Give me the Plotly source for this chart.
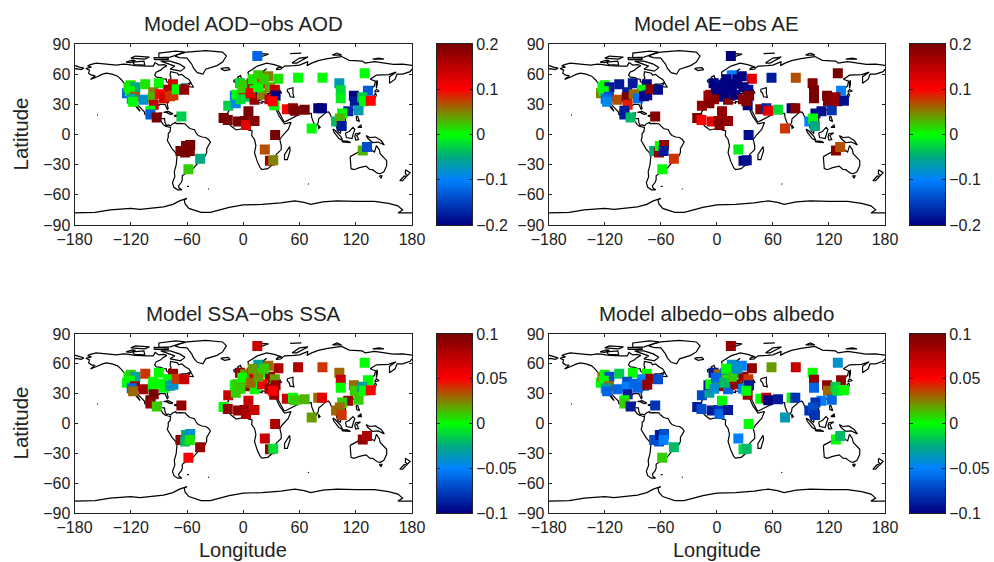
import plotly.graph_objects as go

W, H = 994, 562

# ---------- data ----------
site_lon = [-124,-122.5,-120,-115,-121,-115.5,-119,-117.5,-106.5,-104.5,-90,-96,-96.5,-95.5,-99,-99,-92.3,-75,-80,-89,-84.5,-78,-74.5,-71,-63,-66,
            -67,-62,-61,-56.5,-57,-46,-58.5,
            -21,-16.5,-5.5,1.5,5.5,3,12,34,23,28.5,32,
            46.5,53,55,65.5,80,84,73,
            102.5,104,104,129.5,133,118,119,112,123,127,129,136,105.5,99,103,105,
            37.5,58.5,84.5,127.5,132,15,
            -16,-8,-9,-7,-3.5,3,5,2,9,0,6,12,14,12,16,26.7,19.5,28.5,33.7,20,28,34.5,33,31.5,
            10,-1,8,16,22,-3]
site_lat = [41,47,49,47,43,37.5,35.5,32.5,34.5,50,51,42,37,29.5,23.5,20,17,50,44.5,40,36,38,39,45,44.5,18,
            -16.5,-18,-11.5,-10.5,-16.5,-24,-34.5,
            16.5,14.5,13,13.5,23,9.5,13.5,-0.5,-15,-26,-25.5,
            25,26,23.5,24.5,26,26,6,
            51,44,36,61,43.5,38.5,33,23,24,37,33,33.5,21,13,16,8.5,
            55.5,56.5,56.5,-16,-12.5,78,
            28.5,31,38.5,39.5,51,37.5,48,49.5,51,43,44,44,38.5,34.5,59,58,50.5,47,44.5,39.5,35,38.5,29,33,
            55,46,41,47,55,35]
aod_diff = [-.12,.01,.01,-.05,.0,.07,-.06,.0,-.08,.01,.0,.05,.03,.15,.0,-.13,.2,.13,.17,.1,.13,.08,.08,.0,.18,-.03,
            .2,.2,.2,.2,.2,-.05,.02,
            .2,.2,.2,.2,.2,.12,.19,.2,.07,.17,.05,
            .1,.18,.2,.2,-.2,-.2,.0,
            -.07,-.02,-.01,.0,-.13,-.2,-.18,-.17,-.07,-.03,.0,.1,.0,-.04,.03,-.18,
            .01,.0,.0,.03,-.14,-.12,
            -.03,-.09,-.1,.0,-.02,-.03,.15,.02,.18,.12,.15,.0,-.2,.18,.02,.05,.09,.03,.15,.05,.15,-.2,.0,.1,
            .01,.02,.12,.0,.02,-.02]
ae_diff = [.05,.0,.0,-.18,.0,-.14,-.12,-.09,.07,-.18,-.18,-.18,.2,.09,-.18,-.18,-.04,-.2,.0,.06,-.11,-.2,-.19,.19,-.19,.19,
           -.05,.18,.0,.18,-.18,.08,.0,
           .2,.1,.12,.18,.18,.19,.18,-.19,-.01,-.2,-.19,
           .19,-.17,.12,-.02,-.2,.19,.08,
           .19,.2,.2,.2,-.1,.2,.19,-.19,-.16,.18,.18,-.19,-.19,-.1,.0,-.05,
           .12,-.18,.07,.19,.07,-.2,
           .18,.19,.18,.17,-.2,-.2,-.2,-.19,-.2,-.2,-.2,-.2,-.19,.19,-.1,-.2,-.2,-.2,-.19,-.2,.19,.19,-.2,.19,
           -.2,-.2,-.2,-.2,-.2,.19]
ssa_diff = [.0,.0,.01,-.03,.0,.09,-.06,.03,.085,.04,.0,.0,.0,.1,.1,.09,.01,.09,.0,.0,.0,-.03,-.04,.04,.07,.09,
            .09,-.02,-.025,-.04,.005,.09,.05,
            .0,.09,.09,.09,.07,.08,.07,.08,.07,.09,-.01,
            .07,.0,.01,.015,.03,.06,.02,
            .03,.07,.0,.0,.0,.03,.01,.09,.01,-.03,.0,.05,.01,.03,.03,.04,
            .08,.08,.04,.09,.08,.07,
            .07,.01,.0,.01,.09,.09,.01,.02,.05,.02,.02,.08,.0,.0,-.03,.03,.0,.09,.02,.05,.09,.09,.09,.05,
            .02,.0,.03,.02,.01,.01]
albedo_diff = [.0,.03,.0,-.07,.0,.03,-.03,-.06,-.06,-.015,.0,-.07,-.05,-.09,.0,.01,-.09,.0,-.05,-.06,-.06,-.06,.09,.09,-.07,-.08,
               -.07,-.07,-.09,-.07,-.05,-.02,.01,
               -.09,-.07,-.09,-.08,.0,-.06,-.09,.0,-.05,-.01,-.02,
               .0,.07,-.1,-.09,.0,-.08,-.035,
               .0,.09,-.06,-.04,.09,.09,.03,-.05,-.06,-.015,-.01,.0,-.08,-.08,-.07,-.08,
               .09,.02,.07,.0,-.02,.09,
               -.07,-.03,-.09,.0,-.09,.085,.0,.03,-.06,-.03,.02,.0,.06,-.06,-.04,-.05,-.025,.09,.04,.09,-.05,-.09,.09,.0,
               .0,-.06,-.02,.01,-.04,-.04]

panel_titles = ["Model AOD−obs AOD", "Model AE−obs AE", "Model SSA−obs SSA", "Model albedo−obs albedo"]
panel_values = [aod_diff, ae_diff, ssa_diff, albedo_diff]
panel_limits = [0.2, 0.2, 0.1, 0.1]
bar_ticks = [[-0.2,-0.1,0,0.1,0.2],[-0.2,-0.1,0,0.1,0.2],[-0.1,-0.05,0,0.05,0.1],[-0.1,-0.05,0,0.05,0.1]]
bar_labels = [["−0.2","−0.1","0","0.1","0.2"],["−0.2","−0.1","0","0.1","0.2"],
              ["−0.1","−0.05","0","0.05","0.1"],["−0.1","−0.05","0","0.05","0.1"]]
lon_ticks = [-180,-120,-60,0,60,120,180]
lat_ticks = [-90,-60,-30,0,30,60,90]

# coastlines (lon, lat)
north_south_america = [(-168,65.6),(-164,66.5),(-162,67),(-166,68.3),(-163,69.5),(-157,71),(-150,70.4),(-141,69.7),(-135,69),(-128,70),(-124,69.8),(-115,68.5),(-108,68),(-102,68),(-96,68),(-94,71.5),(-90,69),(-85,69.5),(-81.5,68.5),(-86,66),(-88,64),(-93,62),(-94.5,59),(-92.5,57),(-88,56.5),(-85,55.3),(-82,55),(-82,52.8),(-79.5,51.3),(-79,54),(-77,56),(-78,58.7),(-77.5,62.4),(-73,62),(-70,61),(-69,59),(-65.5,59.8),(-62,57),(-58,54.8),(-56,52),(-60,50),(-66,50),(-70,47),(-65,49),(-64.5,47),(-61,46),(-66,44),(-67,45),(-70,43.5),(-70.5,41.7),(-74,40.5),(-75.5,37.5),(-76,35),(-78,34),(-81,32),(-81,29.5),(-80,26),(-81,25),(-82.7,28),(-83.5,30),(-85.5,30),(-89,30),(-90,29),(-94,29.5),(-97,28),(-97.5,24),(-96,19),(-94.5,18),(-91.5,18.5),(-90.5,21),(-87,21.5),(-88,18),(-88.5,16),(-84,15.8),(-83.5,12),(-82,9),(-79.5,9.5),(-77.5,8.6),(-75.5,10.5),(-72,12),(-71.5,10.8),(-68,11),(-64,10.5),(-62,10.7),(-60,8.5),(-57,6),(-52,4.8),(-50,1),(-48,-1),(-44,-2.5),(-40,-3),(-37,-5),(-35,-7.5),(-37,-11),(-39,-14),(-39,-18),(-41,-22),(-45,-23.7),(-48.5,-26),(-49,-29),(-52.5,-33),(-54.5,-35),(-58,-34.5),(-57,-37),(-62,-39),(-65,-41),(-65,-45),(-66,-47.5),(-69,-51),(-68.5,-53),(-65.5,-55),(-70,-55),(-74,-52.5),(-75.5,-48),(-73,-42),(-73.5,-37),(-71.5,-30),(-70.5,-20),(-76,-14),(-81,-6),(-80,-2.5),(-80,1),(-78,3),(-77.5,7),(-80,7.5),(-83,8.3),(-85.5,10),(-87.5,13),(-91,14),(-94,16),(-97,15.8),(-101,17.5),(-105,20),(-105.5,22.5),(-109,26),(-112,29),(-114.7,31.5),(-113,27.5),(-110,23),(-112,25),(-115,28.5),(-117,32.5),(-120.5,34.5),(-122.5,37.5),(-124,40),(-124,43),(-124,47),(-123,49),(-127,51),(-130,54.5),(-134,58),(-140,60),(-146,61),(-150,60),(-152,59),(-157,57),(-163,54.8),(-158,58.5),(-162,59),(-165,61),(-164,64),(-168,65.6)]
greenland = [(-73,78),(-68,80),(-60,82),(-40,83.5),(-22,82),(-18,78),(-22,72),(-28,68.5),(-40,65),(-43,60),(-49,61.5),(-53,66),(-55,70),(-60,76),(-68,76.5),(-73,78)]
baffin = [(-62,66.5),(-67,63),(-72,64),(-78,65),(-73,68),(-80,70),(-88,73),(-78,73),(-68,70),(-62,66.5)]
victoria = [(-105,69),(-116,69.5),(-118,72),(-106,73),(-105,69)]
banks = [(-125,72),(-118,74),(-115,73.5),(-120,71.5),(-125,72)]
ellesmere = [(-90,76.5),(-78,77),(-62,82),(-72,83),(-90,81),(-90,76.5)]
devon = [(-95,74.5),(-80,74.5),(-80,76),(-95,76.5),(-95,74.5)]
melville = [(-120,76),(-105,75),(-100,77),(-115,78),(-120,76)]
newfoundland = [(-59,47.7),(-53,47),(-56,51.5),(-59,47.7)]
cuba = [(-85,22),(-80,23),(-75,20.5),(-78,20),(-82,22),(-85,22)]
hispaniola = [(-74,18.5),(-70,19.8),(-68.5,18.5),(-72,18),(-74,18.5)]
africa = [(-6,35.8),(-2,35.2),(3,36.9),(10,37.3),(11,34),(10,33.8),(15,32.3),(20,31),(20,33),(25,31.7),(32,31.2),(32.5,30),(35,24),(37,21),(38.5,18),(43,12),(44,10.5),(51,12),(48,5),(42,-1),(39,-5),(40.5,-11),(40.5,-15),(35,-20),(35.5,-24),(32.5,-26),(30,-31),(26,-34),(20,-34.8),(18,-33),(15,-27),(12,-18),(13.5,-11),(12,-5),(9,-1),(9.5,3.5),(5.5,4.5),(2,6.3),(-4,5.2),(-7.5,4.5),(-13,8.5),(-16.8,12.5),(-17.5,14.7),(-16,19),(-17,21),(-13,27.5),(-10,30),(-6,35.8)]
eurasia = [(-9,43),(-9.5,38.7),(-7,37),(-5.5,36),(-2,36.8),(0,39),(3,42),(4,43.4),(7.5,43.8),(10,44),(12.5,41.5),(16,38),(17,40.3),(18.5,40),(13,45),(14.5,45),(19,42),(20,39.5),(22.5,36.5),(24,38),(23,40.5),(26.5,40.5),(29,41),(35,42),(41,41),(39,44),(37,45.5),(33.5,45),(33,46),(30.5,46),(28,42),(26.5,40),(27,37),(30,36.3),(36,36.8),(35.5,33),(34.5,31.5),(32.5,30),(34.8,29.5),(35,28),(39,21),(42.5,16),(43.5,12.7),(45,12.8),(52,16),(58,19),(59.8,22.5),(56.5,24.5),(56,26.5),(52,24),(51,26),(48.5,29.5),(50,30),(56,27),(61,25.3),(67,25),(68,23.5),(70,21),(72.5,21),(73,17),(75,12),(77.5,8),(80,12),(80.5,15.5),(86,20),(88,22),(91,22.5),(92.5,20.5),(94.5,16),(97.5,16.5),(98.5,10),(101,3),(103.5,1.3),(104,3),(102,6.5),(100,9),(100.5,13.5),(103,11),(105,9),(109,11.5),(109,15),(105.7,19),(108,21.5),(110.5,21),(114,22.3),(118,24.5),(121.5,29),(122,31),(120,34.5),(122,37),(118,38.5),(121,40),(125,39.7),(126.5,35),(129,35.2),(129,37.5),(127.5,39.8),(130,42.5),(135,44),(140,48.5),(141,53),(137,54),(135.5,55),(142,59),(155,59.5),(163,62),(156,57.5),(156,51),(162,55),(164,60),(170,60),(178,62.5),(180,65),(None,None),(180,68.8),(170,70),(160,69.8),(150,71.5),(140,72.5),(130,71),(127,73),(113,73.8),(105,77.5),(90,75.5),(80,73.5),(73,71),(68,68.5),(69,72.5),(60,69),(54,68.5),(44,68),(40,65),(35,64.5),(37,66.5),(41,67),(33,69.5),(25,71),(15,68),(5,62),(6,58),(10.5,59),(13,55.5),(17,57),(18,60),(22,63.5),(25,65.5),(21,63),(23,60),(30,60),(24,58.5),(21,55),(14,54),(9,54),(8,57),(10.7,56),(9,54),(3.5,51.2),(-1.5,49.5),(-4.5,48.5),(-1,46),(-2,43.5),(-9,43)]
chukotka = [(-180,68.8),(-175,67),(-170,66),(-173,64.5),(-178,65.5),(-180,65)]
britain = [(-5.5,50),(1,51),(1.5,52.8),(-2,56),(-3,58.5),(-6,57),(-3.5,54),(-5,52),(-5.5,50)]
ireland = [(-10,52),(-6,52),(-6,55),(-10,54),(-10,52)]
iceland = [(-24,65.5),(-20,63.5),(-14,64.5),(-16,66.5),(-22,66),(-24,65.5)]
svalbard = [(11,79),(20,80.5),(27,80),(17,76.8),(11,79)]
novaya_zemlya = [(52,71),(57,71),(69,77),(60,76),(52,71)]
franz_josef = [(50,80.5),(62,81),(55,80),(50,80.5)]
caspian = [(47,45),(53,46.5),(53,41),(54,37),(50,37.5),(49,41),(47,43),(47,45)]
severnaya = [(95,79),(105,79),(100,81),(95,79)]
new_siberian = [(138,75),(145,76),(150,75),(138,75)]
sakhalin = [(142,46),(143,50),(143,54),(142,52),(142,46)]
honshu = [(131,34),(136,34),(140,35),(142,39),(141,41),(139,38),(136,36),(131,34)]
hokkaido = [(140,42),(142,45),(145,43),(141,42),(140,42)]
kyushu = [(130,33),(132,33),(131,31),(130,33)]
taiwan = [(120.5,23),(122,25),(121,22),(120.5,23)]
hainan = [(109,19),(111,20),(110,18),(109,19)]
luzon = [(120.5,18),(122,18),(124,13),(121,14),(120.5,18)]
mindanao = [(122,7),(126,7),(125.5,9.5),(123,8),(122,7)]
borneo = [(109,1.5),(113,3),(117,7),(119,5),(117.5,1),(116,-4),(110,-3),(109,1.5)]
sumatra = [(95.5,5.5),(98,4),(104,-2),(106,-6),(102,-4),(97,2),(95.5,5.5)]
java = [(105,-6.5),(111,-6.5),(114.5,-8),(106,-7.5),(105,-6.5)]
sulawesi = [(120,1),(125,1.5),(121,-1),(123,-5),(120,-5.5),(119,-2),(120,1)]
new_guinea = [(131,-1),(135,-3),(141,-2.5),(147,-6),(150.5,-10.5),(144,-7.5),(138,-8),(133,-4),(131,-1)]
australia = [(114,-22),(122,-18),(126,-14),(130,-12),(136,-12),(136,-15),(140,-17.5),(142,-11),(145,-15),(146,-19),(153,-26),(153,-31),(150,-37),(146,-39),(143,-38.5),(138,-35),(135,-34.8),(131,-31.5),(124,-33),(118,-35),(115,-34),(114,-27),(114,-22)]
tasmania = [(145,-41),(148,-41),(147,-43.5),(145,-41)]
nz_north = [(173,-35),(178,-38),(175,-41),(173,-39),(173,-35)]
nz_south = [(172,-41),(174,-42),(170,-46),(167,-46),(172,-41)]
madagascar = [(49.5,-12),(50,-16),(47,-25),(44,-25),(44,-20),(47,-15),(49.5,-12)]
sri_lanka = [(80,9.5),(82,7),(80.5,6),(80,9.5)]
falkland = [(-60,-51.5),(-58,-51.5),(-59,-52),(-60,-51.5)]
hawaii = [(-156,19.5),(-155,19.5),(-155.5,19),(-156,19.5)]
south_georgia = [(-37.5,-54),(-36.5,-54.2)]
kerguelen = [(69,-49),(70,-49.5)]
antarctica = [(-180,-78),(-158,-77.5),(-142,-75),(-120,-73.5),(-110,-74.5),(-100,-73.5),(-85,-72),(-75,-69.5),(-68,-66),(-60,-63.5),(-63,-65),(-62,-69),(-58,-73.5),(-45,-77.5),(-35,-77.5),(-25,-75),(-15,-72.5),(0,-70),(20,-69.5),(40,-68),(55,-66),(65,-67.5),(72,-69.5),(85,-67),(100,-66),(120,-66.5),(140,-66.5),(155,-68.5),(165,-71),(170,-75),(165,-78),(180,-78)]
landmasses = [north_south_america,greenland,baffin,victoria,banks,ellesmere,devon,melville,newfoundland,cuba,hispaniola,africa,eurasia,chukotka,britain,ireland,iceland,svalbard,novaya_zemlya,franz_josef,caspian,severnaya,new_siberian,sakhalin,honshu,hokkaido,kyushu,taiwan,hainan,luzon,mindanao,borneo,sumatra,java,sulawesi,new_guinea,australia,tasmania,nz_north,nz_south,madagascar,sri_lanka,falkland,hawaii,south_georgia,kerguelen,antarctica]
coast_lon, coast_lat = [], []
for land in landmasses:
    coast_lon += [p[0] for p in land] + [None]
    coast_lat += [p[1] for p in land] + [None]

colorscale = [[0,"rgb(0,0,128)"],[0.25,"rgb(0,128,255)"],[0.375,"rgb(0,170,128)"],
              [0.5,"rgb(0,255,0)"],[0.625,"rgb(130,130,0)"],[0.75,"rgb(255,0,0)"],[1,"rgb(120,0,0)"]]

# ---------- layout in pixels ----------
axes_px = [(74.5,412,44,225),(548.7,885,44,225),(74.5,412,334,513),(548.7,885,334,513)]
bars_px = [(437,472,44,225),(910,945,44,225),(437,472,334,513),(910,945,334,513)]
TEXT = "#222222"
FONT = "Liberation Sans, Arial, sans-serif"

fig = go.Figure()
annotations = []
layout_axes = {}
for i in range(4):
    n = "" if i == 0 else str(i+1)
    bn = str(i+5)
    x0,x1,y0,y1 = axes_px[i]
    bx0,bx1,by0,by1 = bars_px[i]
    lim = panel_limits[i]
    fig.add_trace(go.Scatter(x=coast_lon, y=coast_lat, mode="lines", xaxis="x"+n, yaxis="y"+n, showlegend=False,
                             line=dict(color="black", width=1.2), connectgaps=False, hoverinfo="skip"))
    fig.add_trace(go.Scatter(x=site_lon, y=site_lat, mode="markers", xaxis="x"+n, yaxis="y"+n, showlegend=False,
        marker=dict(symbol="square", size=10, color=panel_values[i], colorscale=colorscale, cmin=-lim, cmax=lim,
                    line=dict(width=0), showscale=False)))
    levels = [-lim + 2*lim*k/200 for k in range(201)]
    fig.add_trace(go.Heatmap(z=[[v] for v in levels], y=levels, x=[0], xaxis="x"+bn, yaxis="y"+bn,
                             colorscale=colorscale, zmin=-lim, zmax=lim, showscale=False, hoverinfo="skip"))
    common = dict(automargin=False, showgrid=False, zeroline=False, showline=True, mirror="ticks", linecolor="#222", linewidth=1,
                  ticks="inside", ticklen=3, tickcolor="#222", tickfont=dict(family=FONT,size=16,color=TEXT))
    layout_axes["xaxis"+n] = dict(domain=[x0/W,x1/W], range=[-180,180], tickvals=lon_ticks, anchor="y"+n, **common)
    layout_axes["yaxis"+n] = dict(domain=[1-y1/H,1-y0/H], range=[-90,90], tickvals=lat_ticks, anchor="x"+n, **common)
    layout_axes["xaxis"+bn] = dict(domain=[bx0/W,bx1/W], anchor="y"+bn, automargin=False, showticklabels=False, ticks="", showgrid=False,
                                   zeroline=False, showline=True, mirror=True, linecolor="#222", linewidth=1, range=[-0.5,0.5])
    layout_axes["yaxis"+bn] = dict(domain=[1-by1/H,1-by0/H], anchor="x"+bn, side="right", range=[-lim,lim],
                                   tickmode="array", tickvals=bar_ticks[i], ticktext=bar_labels[i], **common)
    annotations.append(dict(text=panel_titles[i], x=(x0+x1)/2/W, y=1-(y0-21)/H, xref="paper", yref="paper",
                            xanchor="center", yanchor="middle", showarrow=False, font=dict(family=FONT,size=20.5,color=TEXT)))
    if i % 2 == 0:
        annotations.append(dict(text="Latitude", x=20/W, y=1-(y0+y1)/2/H, xref="paper", yref="paper", textangle=-90,
                                xanchor="center", yanchor="middle", showarrow=False, font=dict(family=FONT,size=20.5,color=TEXT)))
    if i >= 2:
        annotations.append(dict(text="Longitude", x=(x0+x1)/2/W, y=1-549.5/H, xref="paper", yref="paper",
                                xanchor="center", yanchor="middle", showarrow=False, font=dict(family=FONT,size=20,color=TEXT)))

fig.update_layout(template="none", width=W, height=H, margin=dict(l=0,r=0,t=0,b=0,pad=0), paper_bgcolor="white", plot_bgcolor="white",
                  annotations=annotations, **layout_axes)
fig.write_html("out.html", config={"displayModeBar": False},
               post_script="document.body.style.margin='0';document.body.style.overflow='hidden';")
